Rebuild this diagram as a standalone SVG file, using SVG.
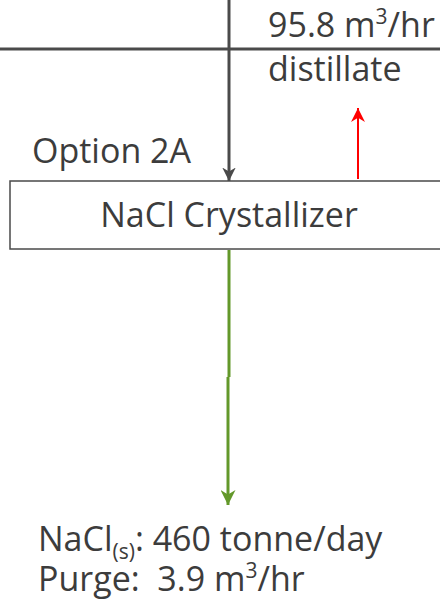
<svg xmlns="http://www.w3.org/2000/svg" width="440" height="601" viewBox="0 0 440 601">
<style>
.t{font-family:"Open Sans","Liberation Sans",sans-serif;fill:#3c3c3c;font-size:34px}
.g{stroke:#4a4a4a;stroke-width:3;fill:none}
</style>
<defs>
<marker id="ag" viewBox="0 0 10 10" refX="10" refY="5" markerWidth="4.5" markerHeight="4.5" orient="auto" markerUnits="strokeWidth"><path d="M0,0L10,5L0,10L3,5z" fill="#4a4a4a"/></marker>
<marker id="ar" viewBox="0 0 10 10" refX="10" refY="5" markerWidth="7" markerHeight="7" orient="auto" markerUnits="strokeWidth"><path d="M0,0L10,5L0,10L3,5z" fill="#ff0000"/></marker>
<marker id="agr" viewBox="0 0 10 10" refX="10" refY="5" markerWidth="5" markerHeight="5" orient="auto" markerUnits="strokeWidth"><path d="M0,0L10,5L0,10L3,5z" fill="#63982a"/></marker>
</defs>
<rect width="440" height="601" fill="#fff"/>
<g id="connectors">
<line class="g" x1="0" y1="49" x2="440" y2="49"/>
<line class="g" x1="229" y1="0" x2="229" y2="181" marker-end="url(#ag)"/>
<line x1="358" y1="179" x2="358" y2="108" stroke="#ff0000" stroke-width="2" marker-end="url(#ar)"/>
<line x1="229" y1="250" x2="229" y2="377" stroke="#63982a" stroke-width="3"/>
<line x1="228" y1="377" x2="228" y2="505" stroke="#63982a" stroke-width="3" marker-end="url(#agr)"/>
</g>
<g id="crystallizer">
<rect x="10" y="181" width="440" height="68" fill="#fff" stroke="#4a4a4a" stroke-width="1.5"/>
<text class="t" x="229" y="227" text-anchor="middle">NaCl Crystallizer</text>
</g>
<g id="labels">
<text class="t" x="268" y="37">95.8 m<tspan font-size="21" dy="-13">3</tspan><tspan dy="13">/hr</tspan></text>
<text class="t" x="268" y="81">distillate</text>
<text class="t" x="32" y="163" font-size="31">Option 2A</text>
<text class="t" x="38" y="551" xml:space="preserve">NaCl<tspan font-size="21" dy="8">(s)</tspan><tspan dy="-8">: 460 tonne/day</tspan><tspan x="38" dy="40">Purge:  3.9 m</tspan><tspan font-size="21" dy="-13">3</tspan><tspan dy="13">/hr</tspan></text>
</g>
</svg>
